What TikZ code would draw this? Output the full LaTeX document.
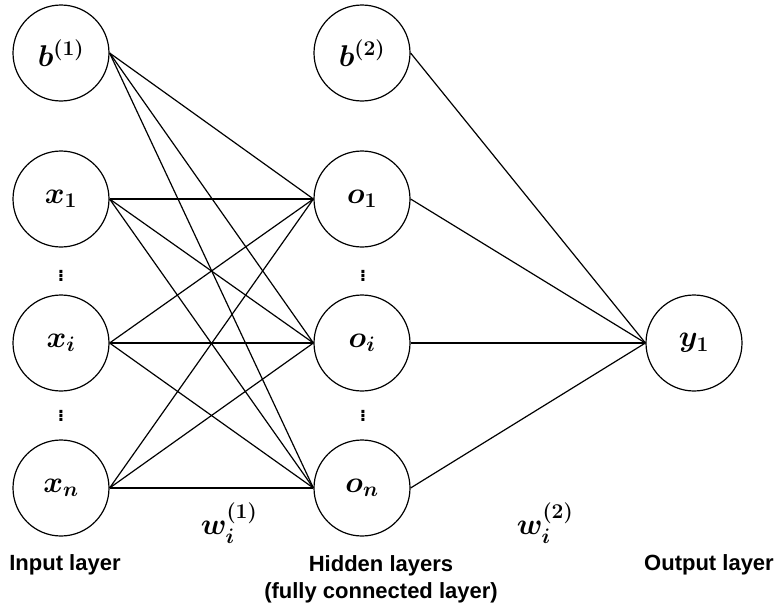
\documentclass[tikz,border=0pt]{standalone}
\usepackage{fix-cm}
\usepackage{amsmath}
\usepackage{amssymb}
\usepackage{bm}
\usepackage{fontspec}
\setmainfont{Liberation Sans}
\usepackage{tikz}

\begin{document}
\begin{tikzpicture}[x=1pt, y=-1pt,
  neuron/.style={draw, circle, line width=1.2pt, minimum size=96pt, inner sep=0pt, font=\fontsize{30}{32}\selectfont},
  layerlabel/.style={font=\fontsize{22}{27}\selectfont\bfseries, align=center},
  wlabel/.style={font=\fontsize{30}{32}\selectfont},
  dotlabel/.style={font=\fontsize{21}{22}\selectfont, inner sep=0pt},
  conn/.style={line width=1.2pt}]
\useasboundingbox (0,0) rectangle (780,608);

% Input layer
\node[neuron] (b1) at (61,53) {$\bm{b}^{\bm{(1)}}$};
\node[neuron] (x1) at (61,199) {$\bm{x}_{\bm{1}}$};
\node[neuron] (xi) at (61,343) {$\bm{x}_{\bm{i}}$};
\node[neuron] (xn) at (61,488) {$\bm{x}_{\bm{n}}$};

% Hidden layer
\node[neuron] (b2) at (362,53) {$\bm{b}^{\bm{(2)}}$};
\node[neuron] (o1) at (362,199) {$\bm{o}_{\bm{1}}$};
\node[neuron] (oi) at (362,343) {$\bm{o}_{\bm{i}}$};
\node[neuron] (on) at (362,488) {$\bm{o}_{\bm{n}}$};

% Output layer
\node[neuron] (y1) at (694,343) {$\bm{y}_{\bm{1}}$};

% Dots
\node[dotlabel] (din1) at (61,273) {$\bm{\vdots}$};
\node[dotlabel] (din2) at (61,413) {$\bm{\vdots}$};
\node[dotlabel] (dhid1) at (363,273) {$\bm{\vdots}$};
\node[dotlabel] (dhid2) at (363,413) {$\bm{\vdots}$};

% Connections input -> hidden
\draw[conn] (b1.east) -- (o1.west);
\draw[conn] (b1.east) -- (oi.west);
\draw[conn] (b1.east) -- (on.west);
\draw[conn] (x1.east) -- (o1.west);
\draw[conn] (x1.east) -- (oi.west);
\draw[conn] (x1.east) -- (on.west);
\draw[conn] (xi.east) -- (o1.west);
\draw[conn] (xi.east) -- (oi.west);
\draw[conn] (xi.east) -- (on.west);
\draw[conn] (xn.east) -- (o1.west);
\draw[conn] (xn.east) -- (oi.west);
\draw[conn] (xn.east) -- (on.west);

% Connections hidden -> output
\draw[conn] (b2.east) -- (y1.west);
\draw[conn] (o1.east) -- (y1.west);
\draw[conn] (oi.east) -- (y1.west);
\draw[conn] (on.east) -- (y1.west);

% Weights
\node[wlabel] (w1) at (229,523) {$\bm{w}_{\bm{i}}^{\bm{(1)}}$};
\node[wlabel] (w2) at (545,523) {$\bm{w}_{\bm{i}}^{\bm{(2)}}$};

% Labels
\node[layerlabel] (linput) at (65,565) {Input layer};
\node[layerlabel, anchor=north] (lhidden) at (381,552) {Hidden layers\\(fully connected layer)};
\node[layerlabel] (loutput) at (709,565) {Output layer};
\end{tikzpicture}
\end{document}
